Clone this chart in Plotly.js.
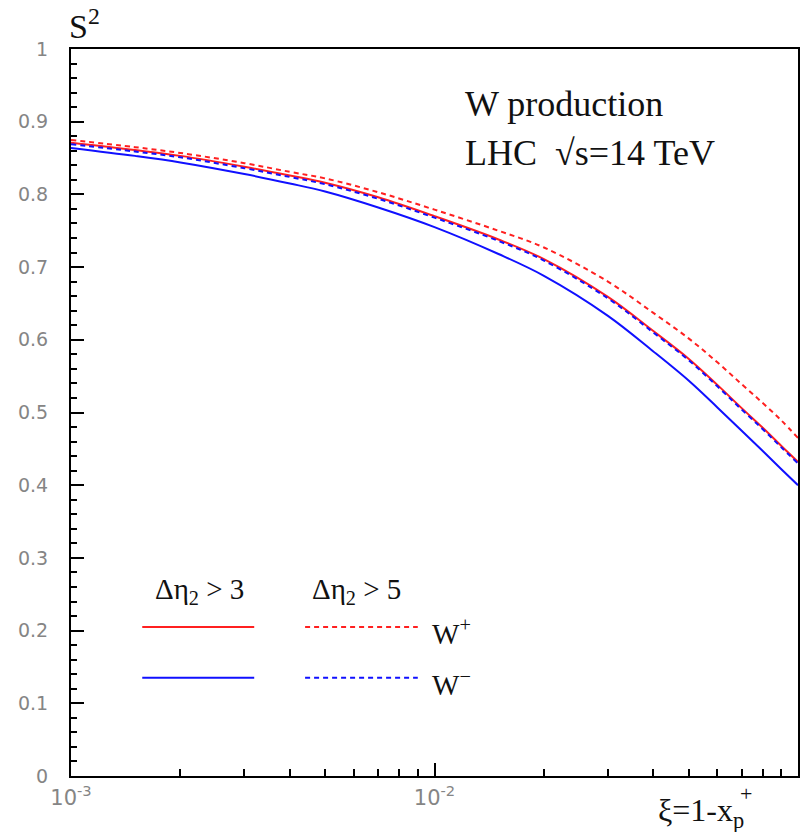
<!DOCTYPE html>
<html>
<head>
<meta charset="utf-8">
<script src="https://cdn.plot.ly/plotly-3.0.1.min.js"></script>
<style>html,body{margin:0;padding:0;background:#fff;}#chart{width:804px;height:832px;}</style>
</head>
<body>
<div id="chart"></div>
<script>
// xi values (log axis)
const xi = [0.001, 0.0015, 0.002, 0.003, 0.004, 0.005, 0.007, 0.01, 0.015, 0.02, 0.03, 0.04, 0.05, 0.06, 0.07, 0.08, 0.09, 0.1];
// S^2 values
const wPlusEta3  = [0.871, 0.861, 0.853, 0.838, 0.826, 0.816, 0.796, 0.770, 0.738, 0.711, 0.659, 0.612, 0.574, 0.538, 0.506, 0.479, 0.454, 0.432];
const wPlusEta5  = [0.875, 0.865, 0.857, 0.843, 0.831, 0.822, 0.803, 0.779, 0.750, 0.727, 0.680, 0.637, 0.602, 0.569, 0.539, 0.513, 0.489, 0.465];
const wMinusEta3 = [0.864, 0.853, 0.844, 0.828, 0.815, 0.804, 0.782, 0.755, 0.718, 0.688, 0.633, 0.584, 0.544, 0.507, 0.475, 0.447, 0.422, 0.400];
const wMinusEta5 = [0.869, 0.859, 0.851, 0.836, 0.824, 0.814, 0.794, 0.768, 0.736, 0.709, 0.657, 0.610, 0.572, 0.536, 0.504, 0.477, 0.452, 0.430];

const xTickVals = [0.001, 0.01];
const xTickText = ['10<sup>-3</sup>', '10<sup>-2</sup>'];
const xMinorVals = [0.002,0.003,0.004,0.005,0.006,0.007,0.008,0.009,0.02,0.03,0.04,0.05,0.06,0.07,0.08,0.09];

const RED = '#ff2020', BLUE = '#1010ff';
const traces = [
  {x: xi, y: wPlusEta3,  mode: 'lines', line: {color: RED,  width: 2, shape: 'spline', smoothing: 1}},
  {x: xi, y: wPlusEta5,  mode: 'lines', line: {color: RED,  width: 2, dash: '5px,4px', shape: 'spline', smoothing: 1}},
  {x: xi, y: wMinusEta3, mode: 'lines', line: {color: BLUE, width: 2, shape: 'spline', smoothing: 1}},
  {x: xi, y: wMinusEta5, mode: 'lines', line: {color: BLUE, width: 2, dash: '5px,4px', shape: 'spline', smoothing: 1}}
];

const serif = 'Liberation Serif';
const yTickFont = {family: 'DejaVu Sans', size: 19, color: '#858585'};
const xTickFont = {family: 'DejaVu Sans', size: 21, color: '#858585'};

const layout = {
  width: 804, height: 832,
  margin: {l: 71, r: 6, t: 49, b: 56},
  paper_bgcolor: '#fff', plot_bgcolor: '#fff',
  showlegend: false, hovermode: false,
  xaxis: {
    type: 'log', range: [-3, -1],
    tickmode: 'array', tickvals: xTickVals, ticktext: xTickText,
    ticks: 'inside', ticklen: 13, tickwidth: 2, tickcolor: '#000',
    minor: {tickmode: 'array', tickvals: xMinorVals, ticks: 'inside', ticklen: 7, tickwidth: 2, tickcolor: '#000', showgrid: false},
    showline: true, linecolor: '#000', linewidth: 2, mirror: true,
    showgrid: false, zeroline: false,
    tickfont: xTickFont, ticklabelstandoff: 2
  },
  yaxis: {
    range: [0, 1],
    tickmode: 'linear', tick0: 0, dtick: 0.1,
    ticks: 'inside', ticklen: 13, tickwidth: 2, tickcolor: '#000',
    minor: {dtick: 0.02, ticks: 'inside', ticklen: 6, tickwidth: 2, tickcolor: '#000', showgrid: false},
    showline: true, linecolor: '#000', linewidth: 2, mirror: true,
    showgrid: false, zeroline: false,
    tickfont: yTickFont, ticklabelstandoff: 17
  },
  shapes: [
    {type: 'line', xref: 'paper', yref: 'paper', x0: 0.098, x1: 0.252, y0: 0.205, y1: 0.205, line: {color: RED, width: 2}},
    {type: 'line', xref: 'paper', yref: 'paper', x0: 0.322, x1: 0.477, y0: 0.205, y1: 0.205, line: {color: RED, width: 2, dash: '5px,4px'}},
    {type: 'line', xref: 'paper', yref: 'paper', x0: 0.098, x1: 0.252, y0: 0.135, y1: 0.135, line: {color: BLUE, width: 2}},
    {type: 'line', xref: 'paper', yref: 'paper', x0: 0.322, x1: 0.477, y0: 0.135, y1: 0.135, line: {color: BLUE, width: 2, dash: '5px,4px'}}
  ],
  annotations: [
    {xref: 'paper', yref: 'paper', x: -0.006, y: 1.0, xanchor: 'left', yanchor: 'bottom', yshift: 2, showarrow: false,
     text: 'S<sup>2</sup>', font: {family: serif, size: 34, color: '#111'}},
    {xref: 'paper', yref: 'paper', x: 0.539, y: 0.924, xanchor: 'left', yanchor: 'middle', showarrow: false,
     text: 'W production', font: {family: serif, size: 36, color: '#111'}},
    {xref: 'paper', yref: 'paper', x: 0.539, y: 0.857, xanchor: 'left', yanchor: 'middle', showarrow: false,
     text: 'LHC  \u221As=14 TeV', font: {family: serif, size: 36, color: '#111'}},
    {xref: 'paper', yref: 'paper', x: 0.177, y: 0.255, xanchor: 'center', yanchor: 'middle', showarrow: false,
     text: '\u0394\u03B7<sub>2</sub> &gt; 3', font: {family: serif, size: 29, color: '#111'}},
    {xref: 'paper', yref: 'paper', x: 0.393, y: 0.255, xanchor: 'center', yanchor: 'middle', showarrow: false,
     text: '\u0394\u03B7<sub>2</sub> &gt; 5', font: {family: serif, size: 29, color: '#111'}},
    {xref: 'paper', yref: 'paper', x: 0.494, y: 0.198, xanchor: 'left', yanchor: 'middle', showarrow: false,
     text: 'W<sup>+</sup>', font: {family: serif, size: 29, color: '#111'}},
    {xref: 'paper', yref: 'paper', x: 0.494, y: 0.128, xanchor: 'left', yanchor: 'middle', showarrow: false,
     text: 'W<sup>\u2212</sup>', font: {family: serif, size: 29, color: '#111'}},
    {xref: 'paper', yref: 'paper', x: 0.804, y: 0, xanchor: 'left', yanchor: 'top', yshift: -14, showarrow: false,
     text: '\u03BE=1-x<sub>p</sub>', font: {family: serif, size: 32, color: '#111'}},
    {xref: 'paper', yref: 'paper', x: 0.918, y: 0, xanchor: 'left', yanchor: 'top', yshift: -3, showarrow: false,
     text: '+', font: {family: serif, size: 22, color: '#111'}}
  ]
};

Plotly.newPlot('chart', traces, layout, {displayModeBar: false, staticPlot: true});
</script>
</body>
</html>
